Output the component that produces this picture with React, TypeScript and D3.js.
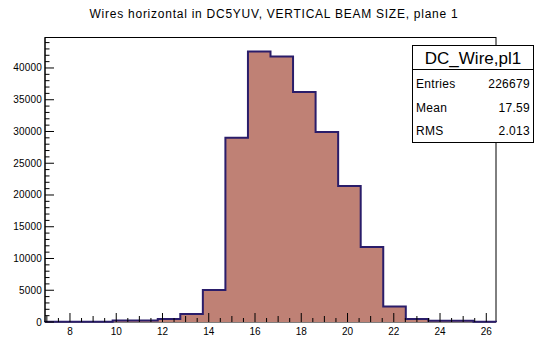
import React from "react";
import * as d3 from "d3";

const TITLE = "Wires horizontal in DC5YUV, VERTICAL BEAM SIZE,  plane 1";
const X_MIN = 6.92;
const X_MAX = 26.42;
const BIN_COUNTS = [20, 20, 30, 220, 230, 480, 1250, 5050, 29000, 42600, 41800, 36200, 29900, 21400, 11800, 2450, 480, 200, 180, 40];
const X_TICKS = [8, 10, 12, 14, 16, 18, 20, 22, 24, 26];
const Y_TICKS = [0, 5000, 10000, 15000, 20000, 25000, 30000, 35000, 40000];
const Y_MAX = 44800;
const STATS_NAME = "DC_Wire,pl1";
const STATS_LABELS = ["Entries", "Mean", "RMS"];
const STATS_VALUES = ["226679", "17.59", "2.013"];

const W = 536, H = 338;
const L = 45, R = 496, T = 37.5, B = 322;
const FILL = "#bf8175";
const LINE = "#2a1d6a";
const FONT = "'Liberation Sans', Arial, Helvetica, sans-serif";

export default function App() {
  const x = d3.scaleLinear().domain([X_MIN, X_MAX]).range([L, R]);
  const y = d3.scaleLinear().domain([0, Y_MAX]).range([B, T]);
  const bw = (X_MAX - X_MIN) / BIN_COUNTS.length;

  const pts: [number, number][] = [[x(X_MIN), y(0)]];
  BIN_COUNTS.forEach((c, i) => {
    const x0 = X_MIN + i * bw;
    const x1 = x0 + bw;
    pts.push([x(x0), y(c)]);
    pts.push([x(x1), y(c)]);
  });
  pts.push([x(X_MAX), y(0)]);
  const line = d3.line<[number, number]>();
  const path = line(pts) || "";

  const yMinor = d3.range(0, Y_MAX, 1000);
  const xMinor = d3.range(7, 26.5, 0.5);

  return (
    <svg width={W} height={H} style={{ display: "block", position: "absolute", left: 0, top: 0 }} fontFamily={FONT}>
      <rect x={0} y={0} width={W} height={H} fill="#fff" />
      <text x={274} y={18} textAnchor="middle" fontSize={12} letterSpacing={0.75} fill="#000">{TITLE}</text>
      <rect x={L} y={T} width={R - L} height={B - T} fill="none" stroke="#000" strokeWidth={1} />
      <path d={path + "Z"} fill={FILL} stroke="none" />
      <path d={path} fill="none" stroke={LINE} strokeWidth={2} strokeLinejoin="miter" />
      {yMinor.map((v) => (
        <line key={"ym" + v} x1={L} x2={L + (v % 5000 === 0 ? 9 : 4.5)} y1={y(v)} y2={y(v)} stroke="#000" strokeWidth={1} />
      ))}
      {Y_TICKS.map((v) => (
        <text key={"yt" + v} x={L - 3} y={y(v) + 3.5} textAnchor="end" fontSize={10} letterSpacing={0.2} fill="#000">{v}</text>
      ))}
      {xMinor.map((v) => (
        <line key={"xm" + v} x1={x(v)} x2={x(v)} y1={B} y2={B - (v % 2 === 0 ? 9 : v % 1 === 0 ? 6 : 4)} stroke="#000" strokeWidth={1} />
      ))}
      {X_TICKS.map((v) => (
        <text key={"xt" + v} x={x(v)} y={335} textAnchor="middle" fontSize={10} fill="#000">{v}</text>
      ))}
      <line x1={L} x2={L} y1={T} y2={B} stroke="#000" strokeWidth={1} />
      <g>
        <rect x={412.5} y={45.5} width={121} height={97} fill="#fff" stroke="#000" strokeWidth={1} />
        <line x1={412.5} x2={533.5} y1={69.5} y2={69.5} stroke="#000" strokeWidth={1} />
        <text x={473} y={64} textAnchor="middle" fontSize={17} fill="#000">{STATS_NAME}</text>
        {STATS_LABELS.map((lab, i) => (
          <g key={lab}>
            <text x={416} y={88 + i * 23.5} fontSize={12} letterSpacing={0.3} fill="#000">{lab}</text>
            <text x={530} y={88 + i * 23.5} textAnchor="end" fontSize={12} letterSpacing={0.3} fill="#000">{STATS_VALUES[i]}</text>
          </g>
        ))}
      </g>
    </svg>
  );
}
